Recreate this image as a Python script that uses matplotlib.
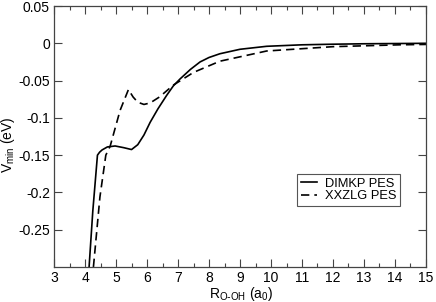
import matplotlib
matplotlib.use("Agg")
import matplotlib.pyplot as plt
from matplotlib.ticker import MultipleLocator

plt.rcParams['font.family'] = ['Liberation Sans', 'DejaVu Sans']

dimkp_x = [4.13, 4.25, 4.40, 4.47, 4.55, 4.72, 4.97, 5.25, 5.5, 5.7, 5.9, 6.1, 6.35, 6.63, 6.85,
           7.06, 7.4, 7.71, 8.0, 8.35, 9.0, 9.86, 11.0, 12.0, 13.0, 14.0, 15.0]
dimkp_y = [-0.30, -0.225, -0.150, -0.146, -0.143, -0.139, -0.1377, -0.140, -0.1425, -0.136, -0.123,
           -0.106, -0.088, -0.070, -0.057, -0.048, -0.035, -0.025, -0.019, -0.014, -0.008,
           -0.004, -0.002, -0.0012, -0.0006, -0.0003, 0.0]

xxzlg_x = [4.27, 4.48, 4.67, 4.81, 5.13, 5.4, 5.55, 5.7, 5.9, 6.1, 6.4, 6.85, 7.5, 8.35,
           9.86, 12.0, 14.16, 15.0]
xxzlg_y = [-0.30, -0.206, -0.150, -0.138, -0.090, -0.062, -0.072, -0.079, -0.082, -0.080,
           -0.072, -0.056, -0.039, -0.024, -0.0103, -0.0045, -0.002, -0.0015]

x_ticks = list(range(3, 16))
y_ticks = [0.05, 0, -0.05, -0.1, -0.15, -0.2, -0.25]
y_ticklabels = ['0.05', '0', '-0.05', '-0.1', '-0.15', '-0.2', '-0.25']

fig = plt.figure(figsize=(4.36, 3.02), dpi=100)
ax = fig.add_axes([0.124, 0.116, 0.853, 0.864])

ax.plot(dimkp_x, dimkp_y, color='black', lw=1.2, label='DIMKP PES')
ax.plot(xxzlg_x, xxzlg_y, color='black', lw=1.2, ls=(0, (5, 3)), label='XXZLG PES')

ax.set_xlim(3, 15)
ax.set_ylim(-0.3, 0.05)
ax.set_xticks(x_ticks)
ax.set_xticklabels([str(t) for t in x_ticks])
ax.xaxis.set_minor_locator(MultipleLocator(0.5))
ax.set_yticks(y_ticks)
ax.set_yticklabels(y_ticklabels)
ax.tick_params(which='both', direction='in', top=True, right=True, labelsize=10,
               color='#444444')
ax.tick_params(which='major', length=6, width=0.8, pad=3)
ax.tick_params(which='minor', length=3, width=0.8)
for s in ax.spines.values():
    s.set_color('#444444')
    s.set_linewidth(0.9)

ax.set_xlabel(r'R$_{\mathregular{O\text{-}OH}}$ (a$_{\mathregular{0}}$)', fontsize=10)
ax.set_ylabel(r'V$_{\mathregular{min}}$ (eV)', fontsize=10)
ax.xaxis.set_label_coords(0.503, -0.069)
ax.yaxis.set_label_coords(-0.100, 0.47)

leg = ax.legend(loc='upper left', bbox_to_anchor=(0.653, 0.356), fontsize=9.3,
                frameon=True, fancybox=False, edgecolor='#555555', framealpha=1,
                handlelength=1.25, borderpad=0.3, labelspacing=0.0, handletextpad=0.6,
                borderaxespad=0)
leg.get_frame().set_linewidth(0.8)

fig.savefig('out.png', dpi=100)
